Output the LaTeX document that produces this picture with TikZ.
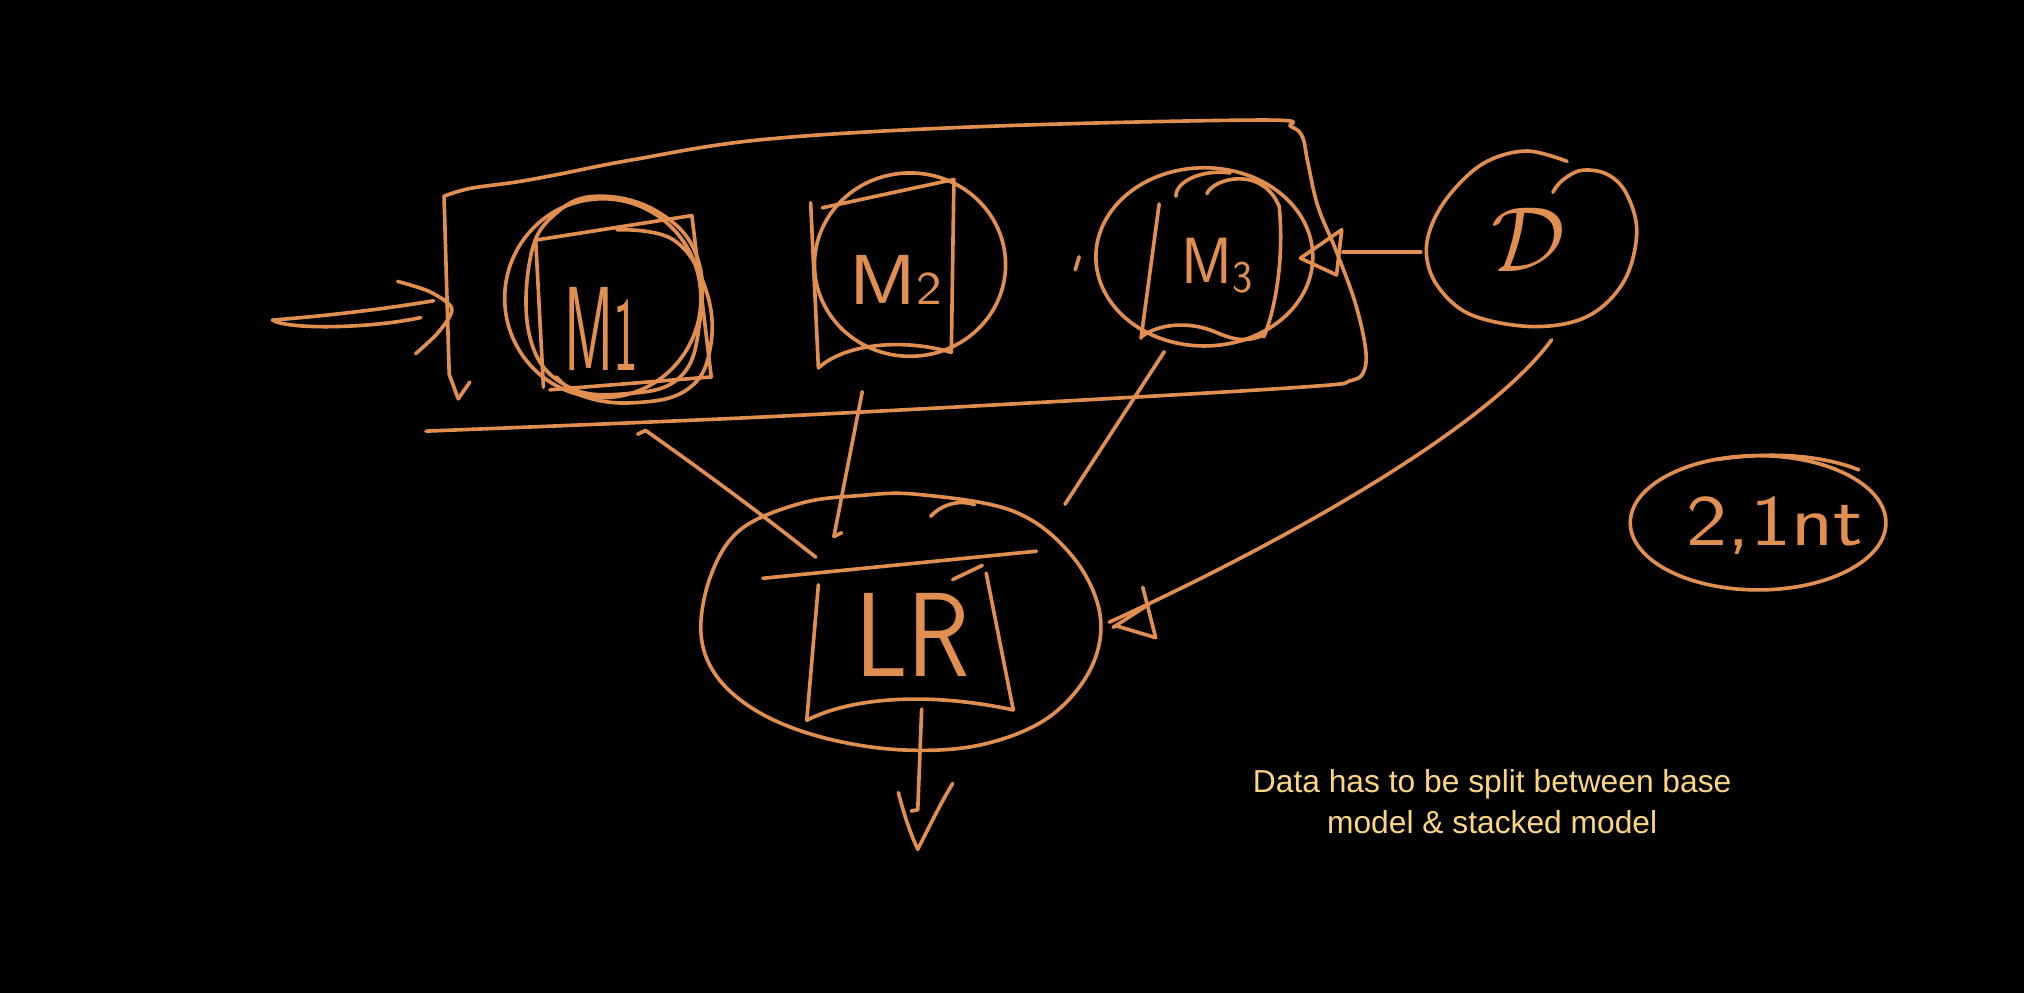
\documentclass[tikz,border=0pt]{standalone}
\usepackage{fontspec}
\usepackage{graphicx}
\newfontfamily\notefont{Liberation Sans}
\usetikzlibrary{calc,shapes.geometric}
\definecolor{ink}{RGB}{224,143,80}
\definecolor{notec}{RGB}{250,214,128}
\begin{document}
\begin{tikzpicture}[x=0.025cm,y=-0.025cm,
  hand/.style={draw=ink,line width=2pt,line cap=round,line join=round},
  blob/.style={ellipse,inner sep=0pt},
  hlab/.style={text=ink,inner sep=0pt},
]
\fill[black] (0,0) rectangle (1568,769);
\useasboundingbox (0,0) rectangle (1568,769);

% ---------- container ----------
\draw[hand] plot[smooth, tension=0.6] coordinates {(344,152) (364,146) (400,141) (433,135) (489,124) (592,108) (762,98) (978,93) (1000,98) (1009,106) (1013,125) (1021,160) (1035,194) (1050,235) (1058,271) (1056,289) (1046,295) (1021,299) (873,308) (592,323) (330,334)};
\draw[hand] (344,152) -- (348,290) -- (355,309) -- (364,296);

% ---------- input arrow ----------
\coordinate (inA) at (211,248);
\coordinate (inB) at (336,233);
\draw[hand] (inA) .. controls (260,244) and (300,239) .. (inB);
\draw[hand] (inA) .. controls (225,256) and (290,254) .. (326,246);
\draw[hand] plot[smooth] coordinates {(308,218) (333,226) (350,239) (340,257) (322,274)};

% ---------- M1 ----------
\node[blob,hand,minimum width=3.8cm,minimum height=3.85cm] (m1) at (467,231) {};
\draw[hand] plot[smooth cycle, tension=0.7] coordinates {(465,152) (511,165) (540,199) (542,250) (527,292) (485,305) (439,299) (411,263) (411,199) (431,165)};
\draw[hand] plot[smooth, tension=0.7] coordinates {(478,178) (522,186) (547,225) (550,271) (532,302) (491,312) (452,307) (431,292)};
\draw[hand] (421,300) -- (415,186) -- (536,167) -- (551,292) -- (426,302);
\node[hlab,font={\sffamily\fontsize{66}{66}\selectfont}] (m1l) at (466,255) {\scalebox{0.5}[1]{M\fontsize{58}{58}\selectfont 1}};

% ---------- M2 ----------
\node[blob,hand,minimum width=3.7cm,minimum height=3.55cm] (m2) at (705,205) {};
\draw[hand] (628,157) -- (634,285);
\draw[hand] (634,285) .. controls (655,266) and (700,262) .. (737,273);
\draw[hand] (637,161) -- (739,139) -- (737,273);
\node[hlab,font={\sffamily\fontsize{39}{39}\selectfont}] (m2l) at (694,217) {\scalebox{1.15}[1]{M\fontsize{26}{26}\selectfont 2}};

% ---------- M3 ----------
\node[blob,hand,minimum width=4.2cm,minimum height=3.45cm] (m3) at (933,199) {};
\draw[hand] (898,158) -- (884,262);
\draw[hand] (884,261) .. controls (900,249) and (925,250) .. (941,257) .. controls (955,263) and (965,266) .. (980,259);
\draw[hand] (911,152) .. controls (911,140) and (932,131) .. (953,134);
\draw[hand] (935,150) .. controls (940,138) and (978,128) .. (991,160) .. controls (995,200) and (988,240) .. (979,261);
\draw[hand] (836,199) -- (833,209);
\node[hlab,font={\sffamily\fontsize{36}{36}\selectfont}] (m3l) at (943,206) {\scalebox{0.95}[1]{M\raisebox{-5pt}{\fontsize{25}{25}\selectfont 3}}};

% ---------- D ----------
\node[blob,minimum width=4.1cm,minimum height=3.4cm] (d) at (1186,185) {};
\draw[hand] plot[smooth, tension=0.6] coordinates {(1214,125) (1183,117) (1152,125) (1128,145) (1111,170) (1105,196) (1114,222) (1140,244) (1188,253) (1230,245) (1258,218) (1268,180) (1260,150) (1245,135) (1225,132) (1210,140) (1203,149)};
\node[hlab] (dl) at (1184,186) {\scalebox{5.1}{$\mathcal{D}$}};

% ---------- LR ----------
\node[blob,minimum width=7.75cm,minimum height=4.95cm] (lr) at (698,482) {};
\draw[hand] plot[smooth cycle, tension=0.6] coordinates {(711,383) (785,396) (830,430) (852,475) (845,518) (812,556) (760,577) (700,581) (640,572) (590,553) (556,525) (543,490) (551,445) (574,410) (620,390) (665,384)};
\draw[hand] (591,448) -- (803,427);
\draw[hand] (634,453) -- (625,558);
\draw[hand] (625,558) .. controls (660,540) and (720,536) .. (785,550);
\draw[hand] (785,550) -- (764,444);
\draw[hand] (738,449) -- (761,438);
\draw[hand] (721,400) .. controls (730,390) and (745,387) .. (755,391);
\node[hlab,font={\sffamily\fontsize{66}{66}\selectfont}] (lrl) at (707,492) {\scalebox{0.86}[1]{LR}};

% ---------- note ellipse ----------
\node[blob,hand,minimum width=4.95cm,minimum height=2.6cm] (note) at (1362,405) {};
\draw[hand] (1330,356) .. controls (1370,350) and (1410,352) .. (1440,364);
\node[hlab,font={\sffamily\fontsize{40}{40}\selectfont}] (notel) at (1375,407) {\scalebox{1.2}[1]{2,1nt}};

% ---------- connectors ----------
% M1 -> LR
\draw[hand] ($(m1.south)+(27,27)$) -- ($(m1.south)+(33,24)$) .. controls +(40,28) and +(-40,-32) .. ($(lr.north)+(-66,49)$);
% M2 -> LR
\draw[hand] ($(m2.south)+(-37,26)$) -- ($(lr.north)+(-52,33)$) -- ($(lr.north)+(-46,30)$);
% M3 -> LR
\draw[hand] ($(m3.south)+(-31,3)$) -- ($(lr.north)+(127,8)$);
% D -> LR
\draw[hand] ($(d.south)+(16,10)$) .. controls +(-55,75) and +(110,-50) .. ($(lr.east)+(6,0)$);
\draw[hand] ($(lr.east)+(9,4)$) -- ($(lr.east)+(37,-14)$);
\draw[hand] ($(lr.east)+(32,-27)$) -- ($(lr.east)+(42,12)$) -- ($(lr.east)+(12,3)$);
% D -> M3
\draw[hand] ($(d.west)+(-3,10)$) -- ($(m3.east)+(22,-4)$);
\draw[hand] ($(m3.east)+(21,-21)$) -- ($(m3.east)+(-11,1)$) -- ($(m3.east)+(17,14)$) -- cycle;
% LR -> output
\coordinate (out) at (711,658);
\draw[hand] ($(lr.south)+(16,-32)$) -- ($(lr.south)+(13,46)$) -- ($(lr.south)+(8,47)$);
\draw[hand] (696,614) .. controls (700,630) and (705,645) .. (out) .. controls (720,640) and (730,620) .. (738,607);

% ---------- caption ----------
\node[text=notec,font={\notefont\fontsize{17.5}{23}\selectfont},align=center] (txt) at (1156,621) {Data has to be split between base\\model \& stacked model};
\end{tikzpicture}
\end{document}
